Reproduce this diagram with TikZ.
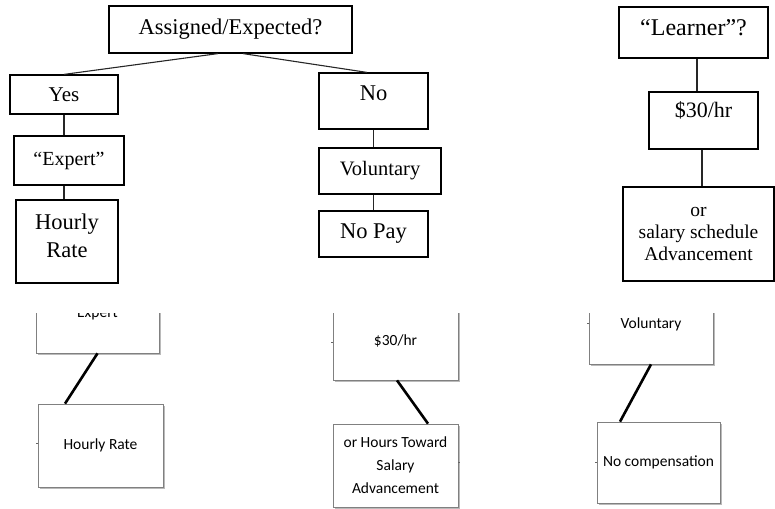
\documentclass[tikz,border=0pt]{standalone}
\usepackage{fontspec}
\setmainfont{Liberation Serif}
\newfontfamily\calfont{Carlito}
\usetikzlibrary{calc,shadows}
\begin{document}
\begin{tikzpicture}[x=1pt,y=-1pt,
  topbox/.style={draw=black, line width=1.2pt, inner sep=0pt, align=center},
  topline/.style={draw=black!85, line width=1.1pt},
  botbox/.style={draw=black!50, line width=0.7pt, fill=white, inner sep=0pt, align=center,
    font=\calfont\fontsize{15.5}{23}\selectfont,
    drop shadow={shadow xshift=1.5pt, shadow yshift=-2pt, fill=black!45, opacity=0.6}},
  botline/.style={draw=black, line width=2.6pt},
  stub/.style={draw=black!60, line width=0.6pt}]
\useasboundingbox (0,0) rectangle (775,508);

% ---------- top (serif) ----------
\node[topbox, minimum width=243pt, minimum height=47pt, font=\fontsize{22.5}{26}\selectfont] (assigned) at (230.5,29.5) {Assigned/Expected?};
\node[topbox, minimum width=108pt, minimum height=39pt, font=\fontsize{21}{26}\selectfont] (yes) at (64,94.5) {Yes};
\node[topbox, minimum width=110pt, minimum height=49pt, font=\fontsize{20}{24}\selectfont] (expertq) at (69,160.5) {“Expert”};
\node[topbox, minimum width=102pt, minimum height=83pt, font=\fontsize{22.5}{28}\selectfont, text height=43pt, text depth=11pt] (hourly) at (67,241.5) {Hourly\\Rate};

\node[topbox, minimum width=109pt, minimum height=56pt, font=\fontsize{22.5}{26}\selectfont, text height=14pt, text depth=14pt] (no) at (373.5,101) {No};
\node[topbox, minimum width=122pt, minimum height=46pt, font=\fontsize{20.5}{24}\selectfont] (voluntary) at (380,171) {Voluntary};
\node[topbox, minimum width=109pt, minimum height=46pt, font=\fontsize{22.5}{26}\selectfont] (nopay) at (373.5,234) {No Pay};

\node[topbox, minimum width=149pt, minimum height=51pt, font=\fontsize{24}{28}\selectfont, text height=16pt, text depth=10pt] (learner) at (693.5,32.5) {“Learner”?};
\node[topbox, minimum width=109pt, minimum height=57pt, font=\fontsize{22}{26}\selectfont, text height=15pt, text depth=21pt] (thirty) at (703.5,120.5) {\$30/hr};
\node[topbox, minimum width=151pt, minimum height=94pt, font=\fontsize{19.5}{22}\selectfont] (salary) at (698.5,234) {or\\salary schedule\\Advancement};

\draw[topline] ($(assigned.south)+(-12.5,0)$) -- (yes.north);
\draw[topline] ($(assigned.south)+(12.5,0)$) -- ($(no.north)+(-6.5,0)$);
\draw[topline] (yes.south) -- (yes.south |- expertq.north);
\draw[topline] (yes.south |- expertq.south) -- (yes.south |- hourly.north);
\draw[topline] (no.south) -- (no.south |- voluntary.north);
\draw[topline] (no.south |- voluntary.south) -- (no.south |- nopay.north);
\draw[topline] ($(learner.south)+(3.5,0)$) coordinate (lp) -- (lp |- thirty.north);
\draw[topline] ($(thirty.south)+(-1.5,0)$) coordinate (tp) -- (tp |- salary.north);

% ---------- bottom (sans, clipped at top) ----------
\begin{scope}
\clip (0,313) rectangle (775,508);
\node[botbox, minimum width=123pt, minimum height=77pt, text height=10pt, text depth=4pt] (expertb) at (97.5,314.5) {Expert};
\node[botbox, minimum width=125pt, minimum height=76pt, text height=10pt, text depth=4pt] (thirtyb) at (395.5,342) {\$30/hr};
\node[botbox, minimum width=124pt, minimum height=78pt, text height=10pt, text depth=4pt] (volb) at (651,325) {Voluntary};
\node[botbox, minimum width=125pt, minimum height=83pt] (hourlyb) at (100.5,445.5) {Hourly Rate};
\node[botbox, minimum width=125pt, minimum height=83pt] (hoursb) at (395.5,465.5) {or Hours Toward\\Salary\\Advancement};
\node[botbox, minimum width=123pt, minimum height=81pt] (nocomp) at (658.5,462.5) {No compensation};

\draw[botline] (expertb.south) -- ($(hourlyb.north)+(-35.5,0)$);
\draw[botline] ($(thirtyb.south)+(1.5,0)$) -- ($(hoursb.north)+(32.5,0)$);
\draw[botline] (volb.south) -- ($(nocomp.north)+(-38.5,0)$);

\draw[stub] ($(hourlyb.west)+(0,-2)$) -- ++(-2,0);
\draw[stub] ($(thirtyb.west)+(0,0)$) -- ++(-2,0);
\draw[stub] ($(volb.west)+(0,-2)$) -- ++(-2,0);
\draw[stub] ($(hoursb.east)+(0,-3)$) -- ++(2,0);
\draw[stub] ($(nocomp.west)+(0,0)$) -- ++(-2,0);
\end{scope}
\end{tikzpicture}
\end{document}
